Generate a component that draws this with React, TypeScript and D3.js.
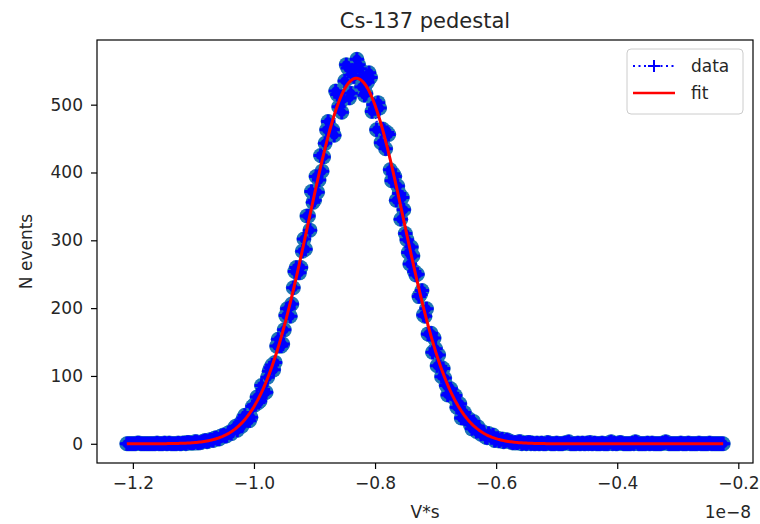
import React, { useRef, useEffect } from 'react';
import * as d3 from 'd3';

// histogram of the pedestal, bins of 0.0025 (x in units of 1e-8 V*s)
const binStart = -1.21;
const binWidth = 0.0025;
const counts = [
  // -1.21 .. -1.1325
  0, 0, 0, 0, 0, 0, 0, 1, 1, 0, 0, 0, 0, 0, 0, 0,
  0, 0, 0, 0, 1, 0, 0, 0, 0, 1, 0, 0, 1, 0, 0, 0,
  // -1.13 .. -1.0325
  0, 0, 1, 0, 0, 1, 1, 0, 2, 2, 1, 1, 1, 3, 3, 1, 2, 2, 3, 4,
  5, 3, 4, 6, 6, 5, 8, 9, 7, 7, 11, 12, 13, 11, 12, 16, 17, 15, 19, 23,
  // -1.03 .. -0.8325
  26, 20, 26, 30, 26, 38, 42, 36, 38, 34, 39, 55, 57, 58, 69, 61, 63, 86, 80, 75,
  76, 98, 107, 112, 116, 109, 120, 144, 154, 144, 144, 147, 168, 189, 199, 200, 188, 206, 230, 254,
  260, 252, 252, 260, 284, 302, 287, 336, 336, 315, 372, 356, 359, 394, 371, 389, 425, 402, 423, 443,
  463, 475, 465, 464, 463, 455, 520, 515, 497, 511, 489, 508, 535, 559, 554, 510, 517, 544, 541, 552,
  // -0.83 .. -0.5425
  567, 559, 553, 526, 540, 514, 516, 533, 547, 540, 490, 500, 494, 463, 503, 495, 444, 464, 462, 435,
  459, 456, 404, 388, 398, 394, 359, 380, 369, 331, 363, 345, 310, 301, 282, 265, 290, 277, 254, 249,
  250, 217, 220, 226, 190, 188, 199, 162, 161, 163, 135, 156, 140, 115, 131, 114, 99, 111, 97, 86,
  72, 74, 81, 74, 68, 71, 54, 53, 59, 38, 38, 46, 37, 36, 37, 28, 22, 33, 26, 18,
  25, 20, 14, 18, 15, 10, 9, 15, 12, 9, 13, 5, 6, 8, 4, 6, 7, 3, 4, 6,
  5, 3, 3, 1, 2, 2, 1, 3, 3, 0, 1, 1, 0, 2, 2, 0,
  // -0.54 .. -0.225
  1, 0, 0, 1, 0, 0, 1, 0, 0, 0, 2, 1, 0, 0, 0, 0, 1, 0, 0, 0,
  0, 1, 1, 2, 3, 0, 0, 0, 0, 0, 1, 0, 0, 1, 0, 0, 1, 0, 2, 0,
  0, 1, 0, 0, 0, 0, 1, 0, 0, 0, 0, 2, 3, 0, 1, 0, 0, 1, 2, 1,
  0, 0, 0, 0, 0, 0, 1, 0, 3, 2, 0, 0, 0, 0, 0, 0, 1, 0, 0, 1,
  0, 0, 0, 0, 0, 0, 1, 1, 3, 2, 0, 0, 0, 0, 0, 0, 0, 0, 1, 0,
  0, 0, 0, 1, 0, 0, 0, 0, 0, 0, 1, 0, 0, 0, 0, 0, 0, 1, 0, 0,
  0, 0, 0, 0, 0, 0, 0,
];

// gaussian fit parameters
const fitAmplitude = 539;
const fitMean = -0.831;
const fitSigma = 0.079;

const xTicks = [-1.2, -1.0, -0.8, -0.6, -0.4, -0.2];
const xTickLabels = ['\u22121.2', '\u22121.0', '\u22120.8', '\u22120.6', '\u22120.4', '\u22120.2'];
const yTicks = [0, 100, 200, 300, 400, 500];
const yTickLabels = ['0', '100', '200', '300', '400', '500'];

const font = 'DejaVu Sans, sans-serif';

const App = () => {
  const svgRef = useRef<SVGSVGElement>(null);

  useEffect(() => {
    const svg = d3.select(svgRef.current);
    svg.selectAll('*').remove();

    const left = 97, right = 753, top = 40, bottom = 463;

    const xs = counts.map((_, i) => binStart + i * binWidth);
    const data = counts.map((c, i) => ({ x: xs[i], y: c }));
    const pad = (xs[xs.length - 1] - xs[0]) * 0.05;
    const ymax = d3.max(counts) as number;

    const x = d3.scaleLinear()
      .domain([xs[0] - pad, xs[xs.length - 1] + pad])
      .range([left, right]);
    const y = d3.scaleLinear()
      .domain([-0.05 * ymax, ymax * 1.05])
      .range([bottom, top]);

    // x axis
    const xAxis = svg.append('g')
      .attr('transform', `translate(0,${bottom})`)
      .call(d3.axisBottom(x).tickValues(xTicks).tickSize(6).tickPadding(8)
        .tickFormat((_, i) => xTickLabels[i]));
    xAxis.select('.domain').remove();

    // y axis
    const yAxis = svg.append('g')
      .attr('transform', `translate(${left},0)`)
      .call(d3.axisLeft(y).tickValues(yTicks).tickSize(6).tickPadding(8)
        .tickFormat((_, i) => yTickLabels[i]));
    yAxis.select('.domain').remove();

    svg.selectAll('.tick line').attr('stroke', '#000').attr('stroke-width', 1.2);
    svg.selectAll('.tick text')
      .attr('font-family', font)
      .attr('font-size', 17)
      .attr('fill', '#262626');

    // data: dotted line, circles and plus markers
    const line = d3.line<{ x: number; y: number }>()
      .x(d => x(d.x))
      .y(d => y(d.y));

    svg.append('path')
      .datum(data)
      .attr('d', line)
      .attr('fill', 'none')
      .attr('stroke', '#0000ff')
      .attr('stroke-width', 1.5)
      .attr('stroke-dasharray', '1.5,2.5');

    svg.append('g')
      .selectAll('circle')
      .data(data)
      .join('circle')
      .attr('cx', d => x(d.x))
      .attr('cy', d => y(d.y))
      .attr('r', 7.5)
      .attr('fill', '#1f77b4');

    svg.append('g')
      .selectAll('circle')
      .data(data)
      .join('circle')
      .attr('cx', d => x(d.x))
      .attr('cy', d => y(d.y))
      .attr('r', 4.5)
      .attr('fill', '#0000ff');

    svg.append('g')
      .selectAll('path')
      .data(data)
      .join('path')
      .attr('d', d => {
        const cx = x(d.x), cy = y(d.y);
        return `M${cx - 7},${cy}H${cx + 7}M${cx},${cy - 7}V${cy + 7}`;
      })
      .attr('stroke', '#0000ff')
      .attr('stroke-width', 3)
      .attr('fill', 'none');

    // fit
    const fit = xs.map(v => ({
      x: v,
      y: fitAmplitude * Math.exp(-((v - fitMean) ** 2) / (2 * fitSigma * fitSigma)),
    }));
    svg.append('path')
      .datum(fit)
      .attr('d', line)
      .attr('fill', 'none')
      .attr('stroke', '#ff0000')
      .attr('stroke-width', 3);

    // frame
    svg.append('rect')
      .attr('x', left)
      .attr('y', top)
      .attr('width', right - left)
      .attr('height', bottom - top)
      .attr('fill', 'none')
      .attr('stroke', '#000')
      .attr('stroke-width', 1.2);

    // labels
    svg.append('text')
      .attr('x', (left + right) / 2)
      .attr('y', 28)
      .attr('text-anchor', 'middle')
      .attr('font-family', font)
      .attr('font-size', 21)
      .attr('fill', '#262626')
      .text('Cs-137 pedestal');

    svg.append('text')
      .attr('x', (left + right) / 2)
      .attr('y', 518)
      .attr('text-anchor', 'middle')
      .attr('font-family', font)
      .attr('font-size', 17)
      .attr('fill', '#262626')
      .text('V*s');

    svg.append('text')
      .attr('x', right - 2)
      .attr('y', 518)
      .attr('text-anchor', 'end')
      .attr('font-family', font)
      .attr('font-size', 17)
      .attr('fill', '#262626')
      .text('1e\u22128');

    svg.append('text')
      .attr('transform', `translate(32,${(top + bottom) / 2}) rotate(-90)`)
      .attr('text-anchor', 'middle')
      .attr('font-family', font)
      .attr('font-size', 17)
      .attr('fill', '#262626')
      .text('N events');

    // legend
    const legend = svg.append('g').attr('transform', 'translate(627,49)');
    legend.append('rect')
      .attr('width', 116)
      .attr('height', 65)
      .attr('rx', 4)
      .attr('fill', 'white')
      .attr('fill-opacity', 0.8)
      .attr('stroke', '#cccccc');

    legend.append('line')
      .attr('x1', 6).attr('x2', 48)
      .attr('y1', 17).attr('y2', 17)
      .attr('stroke', '#0000ff')
      .attr('stroke-width', 2)
      .attr('stroke-dasharray', '2,3.5');
    legend.append('path')
      .attr('d', 'M21,17H33M27,11V23')
      .attr('stroke', '#0000ff')
      .attr('stroke-width', 2);
    legend.append('text')
      .attr('x', 64).attr('y', 23)
      .attr('font-family', font)
      .attr('font-size', 17)
      .attr('fill', '#262626')
      .text('data');

    legend.append('line')
      .attr('x1', 6).attr('x2', 48)
      .attr('y1', 44).attr('y2', 44)
      .attr('stroke', '#ff0000')
      .attr('stroke-width', 2.5);
    legend.append('text')
      .attr('x', 64).attr('y', 50)
      .attr('font-family', font)
      .attr('font-size', 17)
      .attr('fill', '#262626')
      .text('fit');
  }, []);

  return (
    <svg
      ref={svgRef}
      width={760}
      height={524}
      style={{ position: 'absolute', left: 0, top: 0, background: 'white' }}
    />
  );
};

export default App;
